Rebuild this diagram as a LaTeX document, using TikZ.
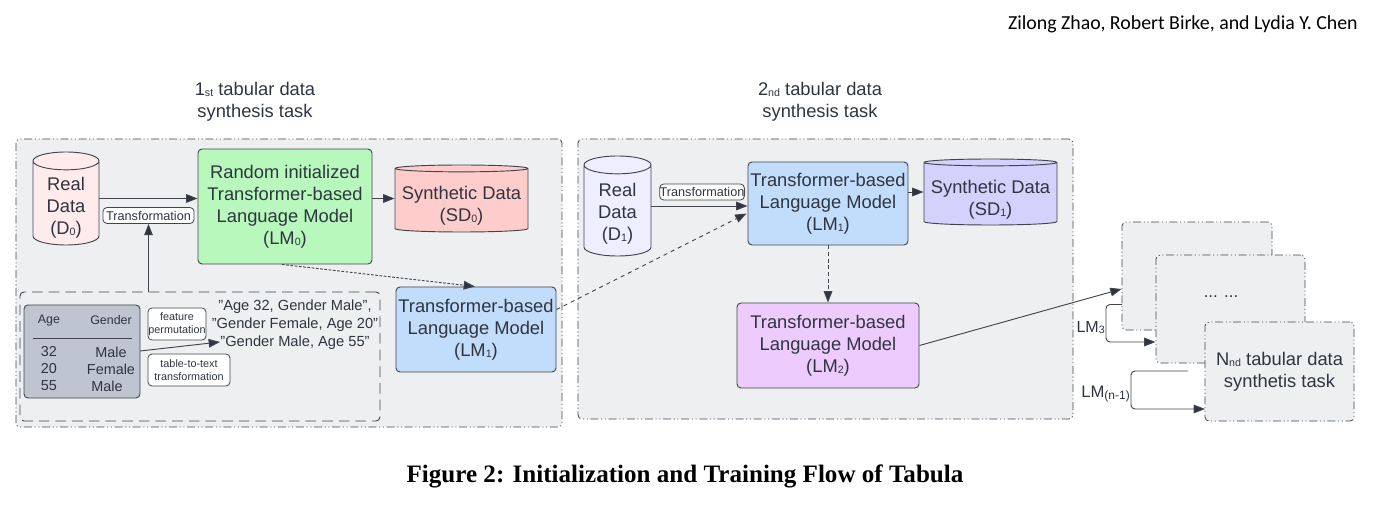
\documentclass[tikz,border=0pt]{standalone}
\usepackage{fontspec}
\setmainfont{Liberation Sans}
\newfontfamily\headfont{Carlito}
\newfontfamily\capfont{Liberation Serif}
\usetikzlibrary{shapes.geometric, arrows.meta, positioning, calc}
\definecolor{inkdark}{HTML}{2F3540}
\definecolor{panelgray}{HTML}{EEEFF1}
\definecolor{linegray}{HTML}{41464E}
\definecolor{realred}{HTML}{FFEBEB}
\definecolor{synthred}{HTML}{FFCCCC}
\definecolor{modelgreen}{HTML}{B8F8BC}
\definecolor{modelblue}{HTML}{C2DCFC}
\definecolor{modelpurple}{HTML}{EDCBFD}
\definecolor{realblue}{HTML}{EEEEFF}
\definecolor{synthblue}{HTML}{D2D2FC}
\definecolor{tablegray}{HTML}{BEC5D0}
\newcommand{\px}{0.75pt}
\newcommand{\lab}[1]{\raisebox{-0.8pt}{\fontsize{8}{8}\selectfont #1}}

\begin{document}
\begin{tikzpicture}[x=0.75pt, y=-0.75pt, every node/.style={text=inkdark, align=center, inner sep=0pt}]
        \tikzstyle{big} = [font=\fontsize{13.75}{16.5}\selectfont]
        \tikzstyle{panel} = [rectangle, draw=linegray, fill=panelgray, rounded corners=3pt, line width=0.6pt, dash pattern=on 6pt off 2pt on 0.8pt off 2pt on 0.8pt off 2pt]
        \tikzstyle{model} = [rectangle, draw=linegray, rounded corners=3pt, line width=0.7pt, big]
        \tikzstyle{db} = [cylinder, shape border rotate=90, draw=linegray, line width=0.7pt, cylinder uses custom fill, anchor=shape center]
        \tikzstyle{tag} = [rectangle, draw=linegray, fill=white, rounded corners=3pt, line width=0.6pt]
        \tikzstyle{cell} = [font=\fontsize{10.8}{13}\selectfont]
        \tikzstyle{head} = [font=\fontsize{9.3}{11}\selectfont]
        \tikzstyle{flow} = [draw=linegray, line width=0.7pt, -{Triangle[length=8.5pt,width=6.5pt,fill=inkdark]}]

        \useasboundingbox (0,0) rectangle (1376,516);

        \node[anchor=east, font=\headfont\fontsize{14.9}{18}\selectfont, text=black] (author) at (1358,24) {Zilong Zhao, Robert Birke, and Lydia Y. Chen};
        \node[font=\capfont\bfseries\fontsize{18.8}{22}\selectfont, text=black] (caption) at (685,476) {Figure 2: Initialization and Training Flow of Tabula};

        \node[big] (titleA) at (255,102) {1\lab{st} tabular data\\synthesis task};
        \node[big] (titleB) at (820,102) {2\lab{nd} tabular data\\synthesis task};

        \node[panel, minimum width=546*\px, minimum height=288*\px] (panelA) at (289,283) {};
        \node[panel, minimum width=495*\px, minimum height=280*\px] (panelB) at (825.5,279) {};

        \node[model, fill=modelgreen, minimum width=174*\px, minimum height=115*\px] (lmzero) at (285,206.5) {Random initialized\\Transformer-based\\Language Model\\(LM\lab{0})};
        \node[db, cylinder body fill=realred, cylinder end fill=realred, minimum width=66*\px, minimum height=93*\px, aspect=0.65] (dzero) at (66,198.5) {\phantom{Real}};
        \node[big] (dzerotext) at (66,207.5) {Real\\Data\\(D\lab{0})};
        \node[db, cylinder body fill=synthred, cylinder end fill=synthred, minimum width=133*\px, minimum height=67*\px, aspect=0.25] (sdzero) at (461.5,198.5) {\phantom{Real}};
        \node[big] (sdzerotext) at (461.5,205.5) {Synthetic Data\\(SD\lab{0})};
        \node[tag, font=\fontsize{9.5}{11}\selectfont, minimum width=91*\px, minimum height=16*\px] (tfzero) at (148.5,215.5) {Transformation};

        \node[rectangle, draw=linegray, rounded corners=3pt, line width=0.7pt, dash pattern=on 8pt off 4.5pt, minimum width=360*\px, minimum height=129*\px] (inner) at (200,356.5) {};
        \node[rectangle, draw=linegray, fill=tablegray, rounded corners=3pt, line width=0.7pt, minimum width=116*\px, minimum height=93*\px] (table) at (82,351.5) {};
        \node[head] (age) at (49,321) {Age};
        \node[head] (gender) at (111,320) {Gender};
        \coordinate (ruleL) at (33,338);
        \coordinate (ruleR) at (132,338);
        \draw[linegray, line width=0.6pt] (ruleL) -- (ruleR);
        \foreach \name/\val/\y in {a/32/352,b/20/369,c/55/386}
            \node[cell] (age\name) at (49,\y) {\val};
        \node[cell] (genA) at (111,352) {Male};
        \node[cell] (genB) at (111,369) {Female};
        \node[cell] (genC) at (107,386) {Male};

        \node[tag, font=\fontsize{8.1}{10}\selectfont, minimum width=58*\px, minimum height=32*\px] (permute) at (177,324) {feature\\permutation};
        \node[tag, font=\fontsize{8.1}{10}\selectfont, minimum width=82*\px, minimum height=32*\px] (totext) at (189,370) {table-to-text\\transformation};
        \node[font=\fontsize{11}{13.5}\selectfont] (quotes) at (295,324.5) {"Age 32, Gender Male",\\"Gender Female, Age 20"\\"Gender Male, Age 55"};
        \coordinate (quotein) at (220,342);
        \coordinate (tableout) at (140,351);

        \node[model, fill=modelblue, minimum width=160*\px, minimum height=85*\px] (lmone) at (476,329.5) {Transformer-based\\Language Model\\(LM\lab{1})};

        \node[db, cylinder body fill=realblue, cylinder end fill=realblue, minimum width=67*\px, minimum height=100*\px, aspect=0.65] (done) at (617.5,206) {\phantom{Real}};
        \node[big] (donetext) at (617.5,214) {Real\\Data\\(D\lab{1})};
        \node[model, fill=modelblue, minimum width=160*\px, minimum height=83*\px] (lmoneB) at (828,203.5) {Transformer-based\\Language Model\\(LM\lab{1})};
        \node[db, cylinder body fill=synthblue, cylinder end fill=synthblue, minimum width=133*\px, minimum height=66*\px, aspect=0.25] (sdone) at (990.5,192) {\phantom{Real}};
        \node[big] (sdonetext) at (990.5,199.5) {Synthetic Data\\(SD\lab{1})};
        \node[tag, font=\fontsize{9.5}{11}\selectfont, minimum width=84*\px, minimum height=16*\px] (tfone) at (702,192) {Transformation};
        \node[model, fill=modelpurple, minimum width=182*\px, minimum height=85*\px] (lmtwo) at (828,345.5) {Transformer-based\\Language Model\\(LM\lab{2})};

        \node[panel, minimum width=150*\px, minimum height=108*\px] (taskA) at (1197,276) {};
        \node[panel, minimum width=149*\px, minimum height=108*\px] (taskB) at (1230.5,309) {};
        \node[font=\fontsize{12.7}{15}\selectfont] (dots) at (1221,297) {... ...};
        \node[panel, big, minimum width=149*\px, minimum height=99*\px] (taskC) at (1279.5,371.5) {N\lab{nd} tabular data\\synthetis task};

        \draw[flow] (dzero.east |- dzero.shape center) -- (lmzero.west |- dzero.shape center);
        \draw[flow] (lmzero.east |- sdzero.shape center) -- (sdzero.west |- sdzero.shape center);
        \draw[flow] (tfzero.south |- inner.north) -- (tfzero.south);
        \draw[flow, dash pattern=on 2pt off 1.2pt] ($(lmzero.south)+(-3,0)$) -- ($(lmone.north)+(-1,0)$);
        \draw[flow] (tableout) -- (quotein);
        \draw[flow, dashed] ($(lmone.east)+(0,-20)$) -- ($(lmoneB.west)+(-1,10)$);
        \draw[flow] (done.east |- done.shape center) -- (lmoneB.west |- done.shape center);
        \draw[flow] (lmoneB.east |- sdone.shape center) -- (sdone.west |- sdone.shape center);
        \draw[flow, densely dashed] (lmoneB.south) -- (lmtwo.north);
        \draw[flow] (lmtwo.east) -- ($(taskA.west)+(0,13)$);

        \coordinate (lmthreeout) at (1122,304.5);
        \coordinate (lmthreein) at (1155.5,342);
        \coordinate (lmlastout) at (1188,371);
        \coordinate (lmlastin) at (1205,409);
        \draw[flow, rounded corners=3pt] (lmthreeout) -- (1106,304.5) -- (1106,342) -- (lmthreein);
        \draw[flow, rounded corners=3pt] (lmlastout) -- (1131,371) -- (1131,409) -- (lmlastin);
        \node[font=\fontsize{12}{14}\selectfont, anchor=east] (lmthree) at (1105,328) {LM\lab{3}};
        \node[font=\fontsize{12.5}{14}\selectfont, anchor=east] (lmlast) at (1130,394) {LM\raisebox{-0.8pt}{\fontsize{9}{9}\selectfont (n-1)}};
\end{tikzpicture}
\end{document}
